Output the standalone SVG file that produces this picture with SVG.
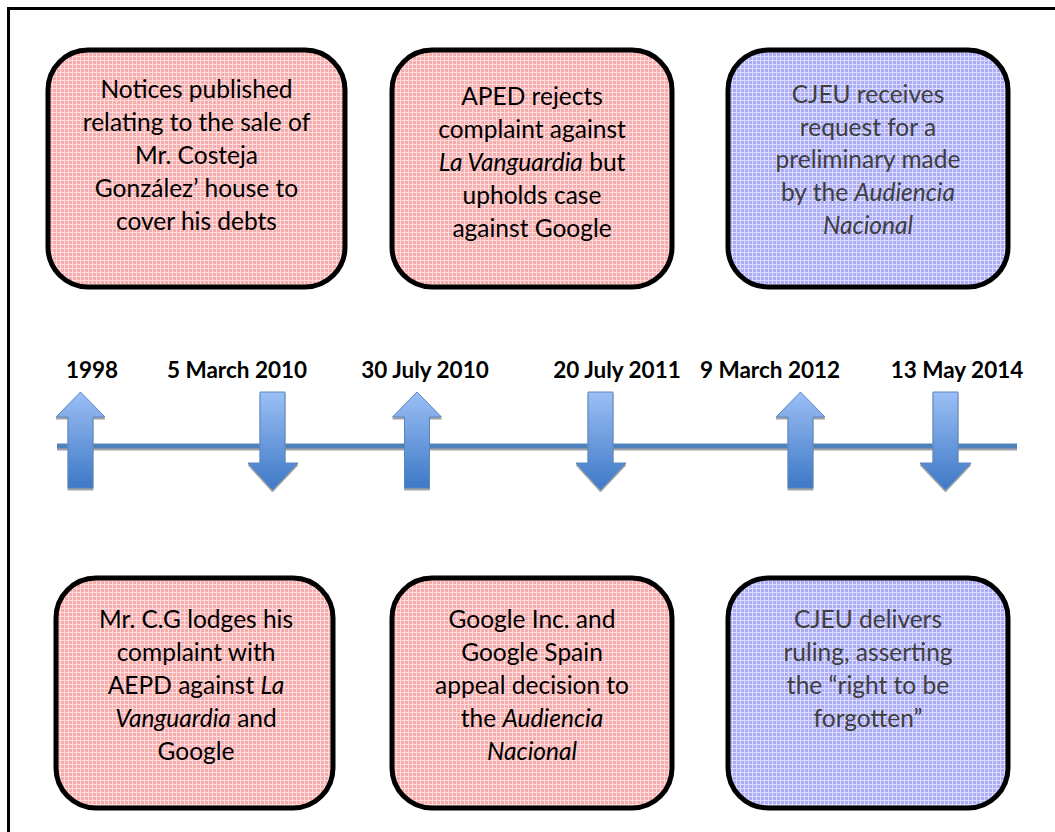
<svg xmlns="http://www.w3.org/2000/svg" width="1055" height="832" viewBox="0 0 1055 832">
<style>
.box{stroke:#000;stroke-width:5}
.pink{fill:url(#pinkPat)}
.blue{fill:url(#bluePat)}
.t{font-family:Lato,"Liberation Sans",sans-serif;font-size:24.5px;text-anchor:middle;fill:#000}
.g{fill:#3f3f3f}
.d{font-family:Lato,"Liberation Sans",sans-serif;font-size:22.5px;font-weight:bold;text-anchor:middle;fill:#000}
.arr{fill:url(#arrGrad);stroke:#5a86c0;stroke-width:1;filter:url(#sh)}
</style>
<defs>
<pattern id="pinkPat" width="4" height="4" patternUnits="userSpaceOnUse">
<rect width="4" height="4" fill="#f6acac"/>
<rect width="4" height="1" fill="#fcdcdc"/>
<rect width="1" height="4" fill="#fcdcdc"/>
</pattern>
<pattern id="bluePat" width="4" height="4" patternUnits="userSpaceOnUse">
<rect width="4" height="4" fill="#acacf6"/>
<rect width="4" height="1" fill="#dcdcfc"/>
<rect width="1" height="4" fill="#dcdcfc"/>
</pattern>
<linearGradient id="arrGrad" x1="0" y1="0" x2="0" y2="1">
<stop offset="0" stop-color="#9bbff5"/>
<stop offset="1" stop-color="#3d78c6"/>
</linearGradient>
<filter id="sh" filterUnits="userSpaceOnUse" x="0" y="0" width="1055" height="832">
<feDropShadow dx="0" dy="2" stdDeviation="0.6" flood-color="#999" flood-opacity="0.9"/>
</filter>
</defs>
<rect x="8.5" y="8.5" width="1070" height="850" fill="#fff" stroke="#000" stroke-width="3"/>

<g id="connectors">
<rect x="57" y="443.5" width="960" height="5" fill="#4f81bd" filter="url(#sh)"/>
</g>

<g id="arrow-1998"><path class="arr" d="M80.5 392 L105 417 L93 417 L93 488 L68 488 L68 417 L56 417 Z"/></g>
<g id="arrow-2010a"><path class="arr" d="M260 392 L285 392 L285 463 L298 463 L272.5 490 L248 463 L260 463 Z"/></g>
<g id="arrow-2010b"><path class="arr" d="M417 392 L441.5 417 L429.5 417 L429.5 488 L404.5 488 L404.5 417 L392.5 417 Z"/></g>
<g id="arrow-2011"><path class="arr" d="M588 392 L613 392 L613 463 L626 463 L600.5 490 L576 463 L588 463 Z"/></g>
<g id="arrow-2012"><path class="arr" d="M800.5 392 L825 417 L813 417 L813 488 L788 488 L788 417 L776 417 Z"/></g>
<g id="arrow-2014"><path class="arr" d="M933 392 L958 392 L958 463 L971 463 L945.5 490 L920 463 L933 463 Z"/></g>

<g id="date-1998"><text class="d" x="92" y="378">1998</text></g>
<g id="date-2010a"><text class="d" x="237" y="378">5 March 2010</text></g>
<g id="date-2010b"><text class="d" x="425" y="378">30 July 2010</text></g>
<g id="date-2011"><text class="d" x="617" y="378">20 July 2011</text></g>
<g id="date-2012"><text class="d" x="770" y="378">9 March 2012</text></g>
<g id="date-2014"><text class="d" x="957" y="378">13 May 2014</text></g>

<g id="box1">
<rect class="box pink" x="48" y="50" width="297" height="237" rx="40"/>
<text class="t" x="196.5" y="98">Notices published</text>
<text class="t" x="196.5" y="131">relating to the sale of</text>
<text class="t" x="196.5" y="164">Mr. Costeja</text>
<text class="t" x="196.5" y="197">González’ house to</text>
<text class="t" x="196.5" y="230">cover his debts</text>
</g>
<g id="box2">
<rect class="box pink" x="392" y="50" width="280" height="237" rx="40"/>
<text class="t" x="532" y="105">APED rejects</text>
<text class="t" x="532" y="138">complaint against</text>
<text class="t" x="532" y="171"><tspan font-style="italic">La Vanguardia</tspan> but</text>
<text class="t" x="532" y="204">upholds case</text>
<text class="t" x="532" y="237">against Google</text>
</g>
<g id="box3">
<rect class="box blue" x="728" y="50" width="280" height="237" rx="40"/>
<text class="t g" x="868" y="103">CJEU receives</text>
<text class="t g" x="868" y="136">request for a</text>
<text class="t g" x="868" y="168">preliminary made</text>
<text class="t g" x="868" y="201">by the <tspan font-style="italic">Audiencia</tspan></text>
<text class="t g" x="868" y="234" font-style="italic">Nacional</text>
</g>
<g id="box4">
<rect class="box pink" x="56" y="578" width="277" height="230" rx="40"/>
<text class="t" x="196" y="628">Mr. C.G lodges his</text>
<text class="t" x="196" y="661">complaint with</text>
<text class="t" x="196" y="694">AEPD against <tspan font-style="italic">La</tspan></text>
<text class="t" x="196" y="727"><tspan font-style="italic">Vanguardia</tspan> and</text>
<text class="t" x="196" y="760">Google</text>
</g>
<g id="box5">
<rect class="box pink" x="392" y="578" width="280" height="230" rx="40"/>
<text class="t" x="532" y="628">Google Inc. and</text>
<text class="t" x="532" y="661">Google Spain</text>
<text class="t" x="532" y="694">appeal decision to</text>
<text class="t" x="532" y="727">the <tspan font-style="italic">Audiencia</tspan></text>
<text class="t" x="532" y="760" font-style="italic">Nacional</text>
</g>
<g id="box6">
<rect class="box blue" x="728" y="578" width="280" height="230" rx="40"/>
<text class="t g" x="868" y="628">CJEU delivers</text>
<text class="t g" x="868" y="661">ruling, asserting</text>
<text class="t g" x="868" y="694">the “right to be</text>
<text class="t g" x="868" y="727">forgotten”</text>
</g>
</svg>
